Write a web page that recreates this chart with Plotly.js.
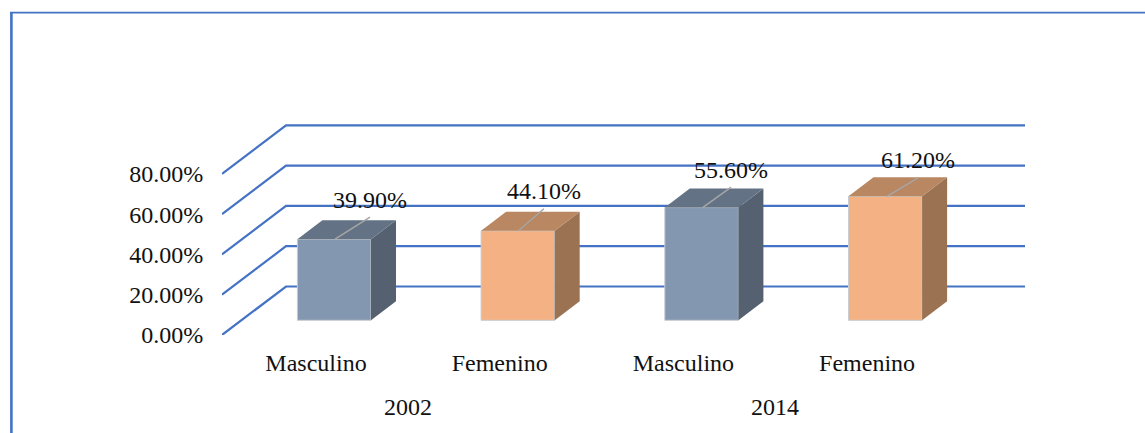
<!DOCTYPE html>
<html><head><meta charset="utf-8">
<script src="https://cdn.plot.ly/plotly-3.0.1.min.js"></script>
<style>html,body{margin:0;padding:0;background:#fff;overflow:hidden}#c{width:1145px;height:433px}</style>
</head><body><div id="c"></div>
<script>
const groups = ["2002", "2014"];
const categories = ["Masculino", "Femenino", "Masculino", "Femenino"];
const values = [0.399, 0.441, 0.556, 0.612];
const yTicks = [0, 0.2, 0.4, 0.6, 0.8];
const frontColors = ["#8497B0", "#F4B183", "#8497B0", "#F4B183"];
const topColors = ["#637285", "#B98762", "#637285", "#B98762"];
const sideColors = ["#556170", "#9C7352", "#556170", "#9C7352"];
const leaderStartPx = [0.8, 0.5, 1, 1.7];
const leaderDxPx = [35, 25.5, 28.5, 31];
const leaderDyPx = [22, 22, 20.5, 18.5];

const W = 1145, H = 433, L = 222, R = 120, T = 120, B = 98;
const pxX = 183.7, pxY = 201.5;
const x0 = (L - 316) / pxX, x1 = x0 + (W - L - R) / pxX;
const wallDx = 64 / pxX, wallDy = 48.5 / pxY;
const barDx = 18.2 / pxX, barBase = 14.7 / pxY, barW = 73.6 / pxX;
const depX = 25 / pxX, depY = 19 / pxY;
const labelGap = 15.5 / pxY;

const xs = categories.map((_, i) => i);
const traces = [{
  type: "bar", x: xs.map(i => i + barDx), y: values.map(v => v + 0.7 / pxY), base: barBase, width: barW,
  marker: {color: frontColors, line: {color: "#C8CBD0", width: 1}}, hoverinfo: "skip", cliponaxis: false
}];
values.forEach((v, i) => {
  const l = i + barDx - barW / 2, r = i + barDx + barW / 2, t = barBase + v + 0.7 / pxY, b = barBase;
  const sx = i + barDx + leaderStartPx[i] / pxX;
  const ex = sx + leaderDxPx[i] / pxX, ey = t + leaderDyPx[i] / pxY;
  traces.push({type: "scatter", mode: "lines", x: [r, r + depX, r + depX, r, r], y: [b, b + depY, t + depY, t, b],
    fill: "toself", fillcolor: sideColors[i], line: {width: 0}, hoverinfo: "skip"});
  traces.push({type: "scatter", mode: "lines", x: [l, l + depX, r + depX, r, l], y: [t, t + depY, t + depY, t, t],
    fill: "toself", fillcolor: topColors[i], line: {width: 0}, hoverinfo: "skip"});
  traces.push({type: "scatter", mode: "lines", x: [sx, ex], y: [t, ey],
    line: {color: "#A6A6A6", width: 1.5}, hoverinfo: "skip"});
  traces.push({type: "scatter", mode: "text", x: [ex], y: [ey + labelGap],
    text: [(v * 100).toFixed(2) + "%"], textposition: "middle center",
    textfont: {family: "Liberation Serif", size: 24, color: "#111"}, hoverinfo: "skip", cliponaxis: false});
});

const shapes = [];
yTicks.forEach(v => {
  shapes.push({type: "path", layer: "below", xref: "x", yref: "y",
    path: `M ${x0} ${v} L ${x0 + wallDx} ${v + wallDy} L ${x1} ${v + wallDy}`,
    line: {color: "#4472C4", width: 2.2}});
});
const fx = p => (p - L) / (W - L - R), fy = p => 1 - (p - T) / (H - T - B);
shapes.push({type: "line", xref: "paper", yref: "paper", x0: fx(10), x1: fx(W), y0: fy(12.7), y1: fy(12.7), line: {color: "#4472C4", width: 1.8}});
shapes.push({type: "line", xref: "paper", yref: "paper", x0: fx(11.4), x1: fx(11.4), y0: fy(12), y1: fy(H), line: {color: "#4472C4", width: 2.6}});

const annotations = groups.map((g, i) => ({
  text: g, xref: "x", yref: "paper", x: 2 * i + 0.5, y: 0, yanchor: "middle", yshift: -72, showarrow: false,
  font: {family: "Liberation Serif", size: 24, color: "#111"}
}));

Plotly.newPlot("c", traces, {
  width: W, height: H, showlegend: false, paper_bgcolor: "#fff", plot_bgcolor: "rgba(0,0,0,0)",
  margin: {l: L, r: R, t: T, b: B, pad: 0},
  font: {family: "Liberation Serif", size: 24, color: "#111"},
  xaxis: {range: [x0, x1], tickmode: "array", tickvals: xs, ticktext: categories, showgrid: false, zeroline: false,
    showline: false, ticks: "outside", ticklen: 6, tickcolor: "rgba(0,0,0,0)"},
  yaxis: {range: [0, (H - T - B) / pxY], tickmode: "array", tickvals: yTicks, tickformat: ".2%", showgrid: false,
    zeroline: false, showline: false, ticks: "outside", ticklen: 13, tickcolor: "rgba(0,0,0,0)"},
  shapes, annotations
}, {displayModeBar: false, staticPlot: true});
</script></body></html>
